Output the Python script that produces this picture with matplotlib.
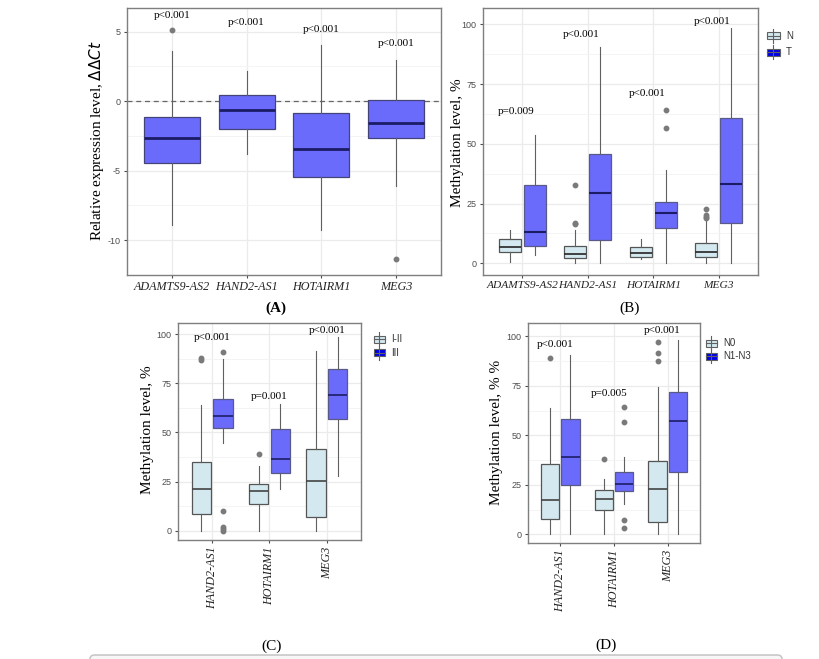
import matplotlib
matplotlib.use("Agg")
import matplotlib.pyplot as plt
from matplotlib.patches import Rectangle, FancyBboxPatch
from matplotlib.lines import Line2D

plt.rcParams["axes.unicode_minus"] = False

W, H = 820, 659

# ---- panel A: relative expression ----
a_genes = ["ADAMTS9-AS2", "HAND2-AS1", "HOTAIRM1", "MEG3"]
a_q1 = [-4.48, -1.97, -5.42, -2.65]
a_med = [-2.65, -0.66, -3.47, -1.60]
a_q3 = [-1.13, 0.42, -0.85, 0.05]
a_lo = [-8.90, -3.83, -9.23, -6.08]
a_hi = [3.64, 2.20, 4.04, 2.98]
a_out = [[5.14], [], [], [-11.34]]
a_p = ["p<0.001", "p<0.001", "p<0.001", "p<0.001"]
a_py = [6.15, 5.68, 5.14, 4.15]

# ---- panel B: methylation N vs T ----
b_genes = ["ADAMTS9-AS2", "HAND2-AS1", "HOTAIRM1", "MEG3"]
b_n_q1 = [4.6, 2.1, 2.8, 2.5]
b_n_med = [6.7, 3.9, 4.2, 4.9]
b_n_q3 = [10.0, 7.4, 6.7, 8.6]
b_n_lo = [0.7, 0.3, 1.7, 0.3]
b_n_hi = [13.9, 13.9, 10.0, 18.0]
b_n_out = [[], [32.6, 16.5, 17.0], [], [22.6, 20.2, 19.5, 18.8]]
b_t_q1 = [7.3, 9.8, 14.6, 16.7]
b_t_med = [13.2, 29.6, 20.9, 33.2]
b_t_q3 = [32.6, 45.6, 25.5, 60.7]
b_t_lo = [3.5, 0.0, 0.0, 0.0]
b_t_hi = [53.5, 90.5, 39.0, 98.3]
b_t_out = [[], [], [64.2, 56.8], []]
b_p = ["p=0.009", "p<0.001", "p<0.001", "p<0.001"]
b_py = [63.7, 95.8, 71.1, 101.1]
b_groups = ["N", "T"]

# ---- panel C: methylation by stage ----
c_genes = ["HAND2-AS1", "HOTAIRM1", "MEG3"]
c_1_q1 = [8.3, 13.4, 7.1]
c_1_med = [21.2, 20.3, 25.3]
c_1_q3 = [35.1, 23.6, 41.4]
c_1_lo = [0.0, 0.0, 0.0]
c_1_hi = [63.9, 33.2, 91.4]
c_1_out = [[88.1, 87.1], [38.8], []]
c_2_q1 = [52.5, 29.2, 57.1]
c_2_med = [58.5, 36.3, 69.3]
c_2_q3 = [66.8, 52.0, 82.4]
c_2_lo = [44.7, 21.2, 28.0]
c_2_hi = [87.6, 64.4, 98.6]
c_2_out = [[90.7, 9.8, 1.7, 0.7, 0.0], [], []]
c_p = ["p<0.001", "p=0.001", "p<0.001"]
c_py = [98.3, 68.1, 102.0]
c_groups = ["I-II", "III"]

# ---- panel D: methylation by nodal status ----
d_genes = ["HAND2-AS1", "HOTAIRM1", "MEG3"]
d_1_q1 = [7.6, 12.2, 6.4]
d_1_med = [17.2, 17.7, 23.0]
d_1_q3 = [35.3, 22.6, 36.8]
d_1_lo = [0.0, 0.0, 0.0]
d_1_hi = [63.7, 27.7, 74.3]
d_1_out = [[89.0], [38.3], [97.0, 91.6, 87.7]]
d_2_q1 = [24.8, 22.0, 31.6]
d_2_med = [38.9, 25.3, 57.4]
d_2_q3 = [58.3, 31.3, 71.8]
d_2_lo = [0.0, 15.2, 0.0]
d_2_hi = [90.7, 39.2, 98.3]
d_2_out = [[], [64.2, 56.8, 7.1, 3.4], []]
d_p = ["p<0.001", "p=0.005", "p<0.001"]
d_py = [95.8, 71.3, 102.9]
d_groups = ["N0", "N1-N3"]

SERIF = "Liberation Serif"
SANS = "Liberation Sans"
LIGHT = "#d3e9ef"
BLUE = "#6b6bfb"
LEG_BLUE = "#0000e6"


def pxbox(l, t, r, b):
    return [l / W, 1 - b / H, (r - l) / W, (b - t) / H]


def fx(x, y):
    return (x / W, 1 - y / H)


def stats(q1, med, q3, lo, hi, out):
    return [dict(q1=a, med=m, q3=c, whislo=l, whishi=h, fliers=f)
            for a, m, c, l, h, f in zip(q1, med, q3, lo, hi, out)]


def draw(ax, st, pos, width, face, edge, medc, medlw):
    ax.bxp(st, positions=pos, widths=width, patch_artist=True,
           showcaps=False, manage_ticks=False,
           boxprops=dict(facecolor=face, edgecolor=edge, linewidth=0.9),
           medianprops=dict(color=medc, linewidth=medlw),
           whiskerprops=dict(color="#606060", linewidth=0.8),
           flierprops=dict(marker="o", markersize=3.2, markerfacecolor="#7a7a7a",
                           markeredgecolor="#7a7a7a"),
           zorder=3)


def theme(ax, ylim, yticks, minors, labels, rot=0, xfs=8.7):
    n = len(labels)
    ax.set_xlim(0.4, n + 0.6)
    ax.set_ylim(*ylim)
    ax.set_yticks(yticks)
    ax.set_yticks(minors, minor=True)
    ax.set_xticks(range(1, n + 1))
    if rot:
        ax.set_xticklabels(labels, family=SERIF, style="italic", fontsize=xfs,
                           color="#222222", rotation=90, ha="center", va="top")
    else:
        ax.set_xticklabels(labels, family=SERIF, style="italic", fontsize=xfs,
                           color="#222222")
    ax.grid(True, which="major", color="#ebebeb", linewidth=0.9, zorder=0)
    ax.grid(True, which="minor", axis="y", color="#f3f3f3", linewidth=0.6, zorder=0)
    ax.set_axisbelow(True)
    for s in ax.spines.values():
        s.set_color("#7f7f7f")
        s.set_linewidth(1.0)
    ax.tick_params(which="major", length=2.5, color="#4d4d4d", pad=2)
    ax.tick_params(axis="y", labelcolor="#4d4d4d", labelsize=6.5)
    ax.tick_params(which="minor", length=0)
    for lab in ax.get_yticklabels():
        lab.set_family(SANS)


def legend_key(fig, x0, x1, yc, face, label, tx):
    h = 7
    fig.add_artist(Line2D([fx((x0 + x1) / 2, 0)[0]] * 2,
                          [fx(0, yc - 7)[1], fx(0, yc + 7)[1]],
                          color="#606060", linewidth=0.8))
    fig.add_artist(Rectangle(fx(x0, yc + h / 2), (x1 - x0) / W, h / H,
                             facecolor=face, edgecolor="#606060", linewidth=0.8))
    fig.add_artist(Line2D([fx(x0, 0)[0], fx(x1, 0)[0]], [fx(0, yc)[1]] * 2,
                          color="#606060", linewidth=0.8))
    fig.text(*fx(tx, yc), label, family=SANS, fontsize=7, color="#333333",
             ha="left", va="center")


fig = plt.figure(figsize=(W / 100, H / 100), dpi=100)

# ---------- A ----------
axA = fig.add_axes(pxbox(127, 8, 441, 275))
theme(axA, (-12.2, 6.7), [-10, -5, 0, 5], [-12.5, -7.5, -2.5, 2.5], a_genes)
axA.axhline(0, color="#666666", linestyle=(0, (4, 3)), linewidth=0.9, zorder=2)
draw(axA, stats(a_q1, a_med, a_q3, a_lo, a_hi, a_out), [1, 2, 3, 4], 0.75,
     BLUE, "#44447a", "#1c1c66", 2.0)
for i, (t, y) in enumerate(zip(a_p, a_py)):
    axA.text(i + 1, y, t, family=SERIF, fontsize=8, ha="center", va="center", zorder=5)
fig.text(*fx(97, 141), "Relative expression level, $\\mathit{\\Delta\\Delta Ct}$",
         family=SERIF, fontsize=11, rotation=90, ha="center", va="center")
fig.text(*fx(276, 308), "(A)", family=SERIF, fontsize=11, fontweight="bold",
         ha="center", va="center")

# ---------- B ----------
axB = fig.add_axes(pxbox(483, 8, 758, 275))
theme(axB, (-4.9, 106.8), [0, 25, 50, 75, 100], [12.5, 37.5, 62.5, 87.5], b_genes,
      xfs=8.2)
pos = [1, 2, 3, 4]
draw(axB, stats(b_n_q1, b_n_med, b_n_q3, b_n_lo, b_n_hi, b_n_out),
     [p - 0.19 for p in pos], 0.34, LIGHT, "#555555", "#333333", 1.3)
draw(axB, stats(b_t_q1, b_t_med, b_t_q3, b_t_lo, b_t_hi, b_t_out),
     [p + 0.19 for p in pos], 0.34, BLUE, "#5a5a8a", "#1c1c66", 1.5)
for i, (t, y) in enumerate(zip(b_p, b_py)):
    axB.text(i + 0.9, y, t, family=SERIF, fontsize=8, ha="center", va="center", zorder=5)
fig.text(*fx(457, 143), "Methylation level, %", family=SERIF, fontsize=11,
         rotation=90, ha="center", va="center")
fig.text(*fx(630, 308), "(B)", family=SERIF, fontsize=11, ha="center", va="center")
legend_key(fig, 767, 780, 35.7, LIGHT, b_groups[0], 786)
legend_key(fig, 767, 780, 52, LEG_BLUE, b_groups[1], 786)

# ---------- C ----------
axC = fig.add_axes(pxbox(178, 323, 361, 540))
theme(axC, (-4.7, 105.7), [0, 25, 50, 75, 100], [12.5, 37.5, 62.5, 87.5], c_genes, rot=90)
pos = [1, 2, 3]
draw(axC, stats(c_1_q1, c_1_med, c_1_q3, c_1_lo, c_1_hi, c_1_out),
     [p - 0.19 for p in pos], 0.34, LIGHT, "#555555", "#444444", 1.2)
draw(axC, stats(c_2_q1, c_2_med, c_2_q3, c_2_lo, c_2_hi, c_2_out),
     [p + 0.19 for p in pos], 0.34, BLUE, "#5a5a8a", "#1c1c66", 1.2)
for i, (t, y) in enumerate(zip(c_p, c_py)):
    axC.text(i + 1, y, t, family=SERIF, fontsize=8, ha="center", va="center", zorder=5)
fig.text(*fx(148, 430), "Methylation level, %", family=SERIF, fontsize=11,
         rotation=90, ha="center", va="center")
fig.text(*fx(272, 646), "(C)", family=SERIF, fontsize=11, ha="center", va="center")
legend_key(fig, 374, 385, 339, LIGHT, c_groups[0], 391)
legend_key(fig, 374, 385, 352.7, LEG_BLUE, c_groups[1], 391)

# ---------- D ----------
axD = fig.add_axes(pxbox(528, 323, 700, 543))
theme(axD, (-4.4, 106.8), [0, 25, 50, 75, 100], [12.5, 37.5, 62.5, 87.5], d_genes, rot=90)
draw(axD, stats(d_1_q1, d_1_med, d_1_q3, d_1_lo, d_1_hi, d_1_out),
     [p - 0.19 for p in pos], 0.34, LIGHT, "#555555", "#444444", 1.2)
draw(axD, stats(d_2_q1, d_2_med, d_2_q3, d_2_lo, d_2_hi, d_2_out),
     [p + 0.19 for p in pos], 0.34, BLUE, "#5a5a8a", "#1c1c66", 1.2)
for i, (t, y) in enumerate(zip(d_p, d_py)):
    axD.text(i + 0.9, y, t, family=SERIF, fontsize=8, ha="center", va="center", zorder=5)
fig.text(*fx(497, 432), "Methylation level, % %", family=SERIF, fontsize=11,
         rotation=90, ha="center", va="center")
fig.text(*fx(606, 645), "(D)", family=SERIF, fontsize=11, ha="center", va="center")
legend_key(fig, 706, 717, 343, LIGHT, d_groups[0], 723)
legend_key(fig, 706, 717, 356.3, LEG_BLUE, d_groups[1], 723)

# bottom frame of the next page block
fig.add_artist(FancyBboxPatch(fx(90, 700), 692 / W, 45 / H,
                              boxstyle="round,pad=0,rounding_size=0.006",
                              facecolor="#f7f7f7", edgecolor="#c8c8c8", linewidth=1.2,
                              transform=fig.transFigure))

fig.savefig("out.png", dpi=100)
